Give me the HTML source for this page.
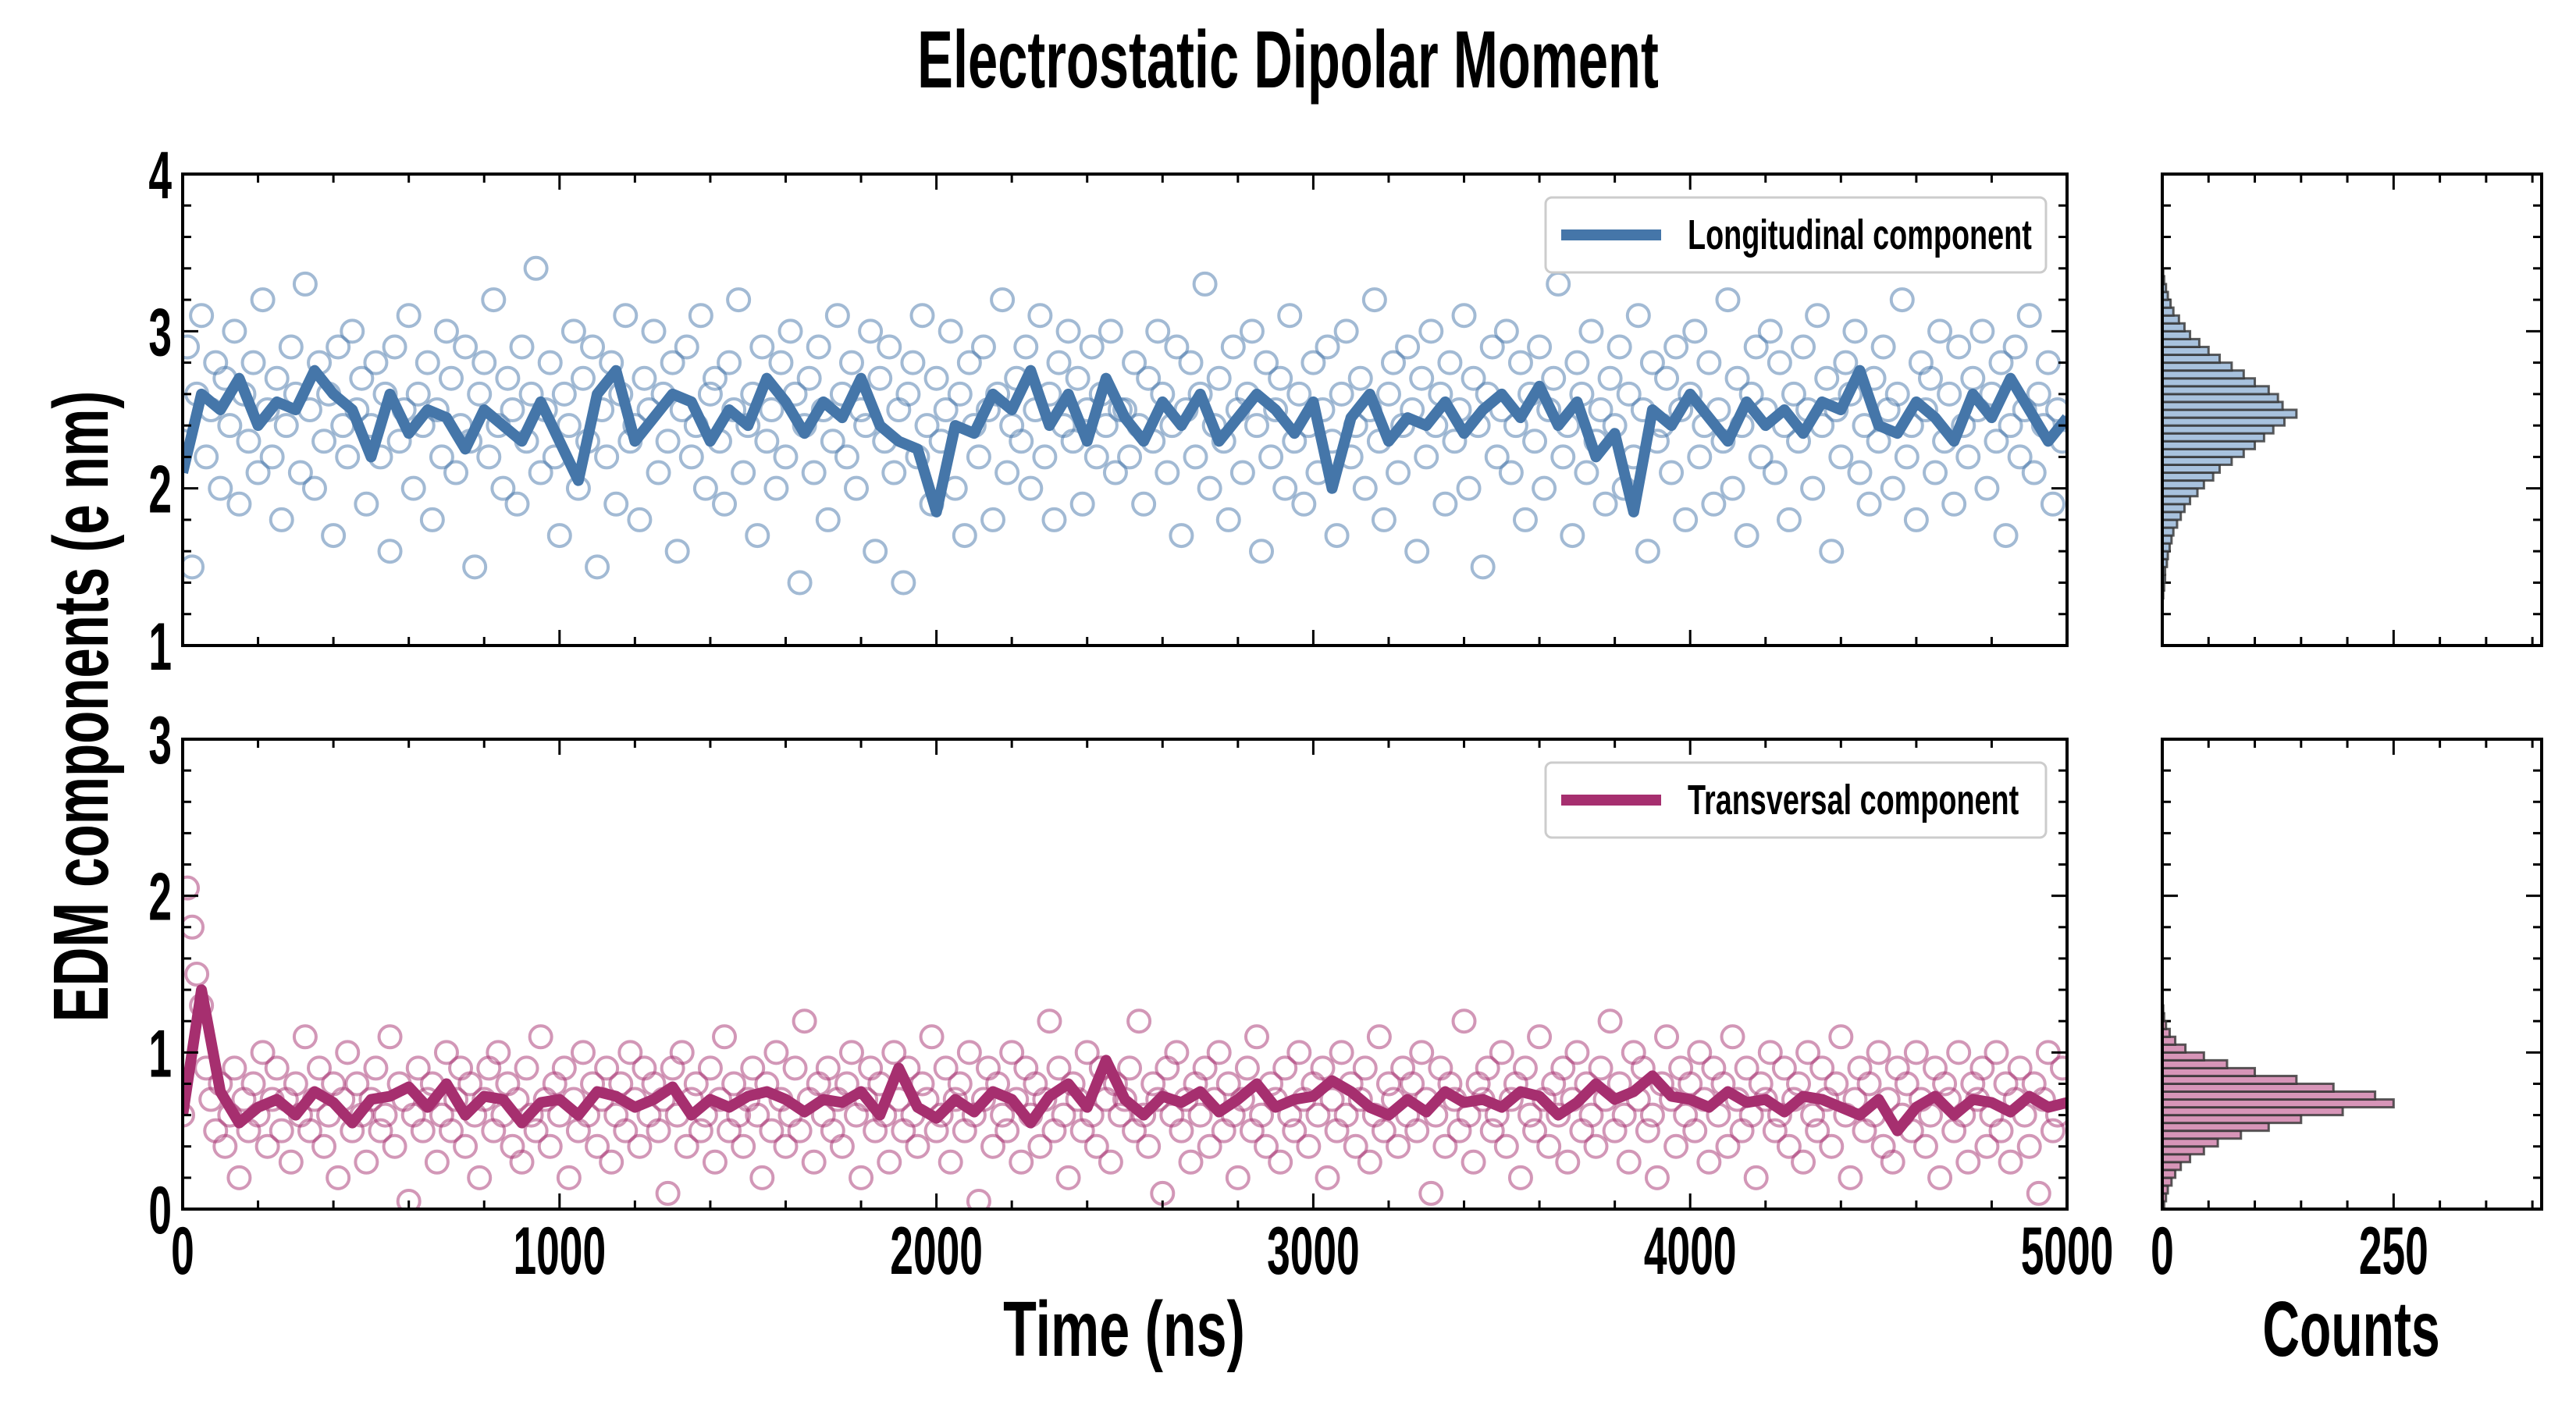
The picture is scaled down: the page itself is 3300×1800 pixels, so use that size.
<!DOCTYPE html>
<html><head><meta charset="utf-8">
<style>
html,body{margin:0;padding:0;background:#fff;}
svg{display:block;}
text{font-family:"Liberation Sans Narrow","Liberation Sans",sans-serif;font-weight:bold;fill:#000;}
</style></head>
<body>
<svg id="chart" width="3300" height="1800" viewBox="0 0 3300 1800" xmlns="http://www.w3.org/2000/svg">
<text x="0" y="0" font-size="104" text-anchor="middle" transform="translate(1650,112) scale(0.66,1)">Electrostatic Dipolar Moment</text>
<text x="0" y="0" font-size="100" text-anchor="middle" transform="translate(138,905) rotate(-90) scale(0.69,1)">EDM components (e nm)</text>
<text x="0" y="0" font-size="100" text-anchor="middle" transform="translate(1440,1737) scale(0.7,1)">Time (ns)</text>
<text x="0" y="0" font-size="100" text-anchor="middle" transform="translate(3012,1737) scale(0.66,1)">Counts</text>
<g id="layer"></g>
</svg>
<script>
// ---- data ----
const lineTimes = Array.from({length:101},(_,i)=>i*50);
const topLine = [2.1,2.6,2.5,2.7,2.4,2.55,2.5,2.75,2.6,2.5,2.2,2.6,2.35,2.5,2.45,2.25,2.5,2.4,2.3,2.55,2.3,2.05,2.6,2.75,2.3,2.45,2.6,2.55,2.3,2.5,2.4,2.7,2.55,2.35,2.55,2.45,2.7,2.4,2.3,2.25,1.85,2.4,2.35,2.6,2.5,2.75,2.4,2.6,2.3,2.7,2.45,2.3,2.55,2.4,2.6,2.3,2.45,2.6,2.5,2.35,2.55,2.0,2.45,2.6,2.3,2.45,2.4,2.55,2.35,2.5,2.6,2.45,2.65,2.4,2.55,2.2,2.35,1.85,2.5,2.4,2.6,2.45,2.3,2.55,2.4,2.5,2.35,2.55,2.5,2.75,2.4,2.35,2.55,2.45,2.3,2.6,2.45,2.7,2.5,2.3,2.45];
const bottomLine = [0.6,1.4,0.75,0.55,0.65,0.7,0.6,0.75,0.68,0.55,0.7,0.72,0.78,0.65,0.8,0.6,0.72,0.7,0.55,0.68,0.7,0.6,0.75,0.72,0.65,0.7,0.78,0.6,0.7,0.65,0.72,0.75,0.7,0.62,0.7,0.68,0.75,0.6,0.9,0.65,0.58,0.7,0.62,0.75,0.7,0.55,0.72,0.8,0.65,0.95,0.7,0.6,0.72,0.68,0.75,0.62,0.7,0.8,0.65,0.7,0.72,0.82,0.75,0.65,0.6,0.7,0.62,0.75,0.68,0.7,0.65,0.75,0.72,0.6,0.68,0.8,0.7,0.75,0.85,0.72,0.7,0.65,0.75,0.68,0.7,0.62,0.72,0.7,0.65,0.6,0.7,0.5,0.65,0.72,0.6,0.7,0.68,0.62,0.72,0.65,0.68];
const topScatter = [2.3,2.9,1.5,2.6,3.1,2.2,2.5,2.8,2.0,2.7,2.4,3.0,1.9,2.6,2.3,2.8,2.1,3.2,2.5,2.2,
2.7,1.8,2.4,2.9,2.6,2.1,3.3,2.5,2.0,2.8,2.3,2.6,1.7,2.9,2.4,2.2,3.0,2.5,2.7,1.9,
2.4,2.8,2.2,2.6,1.6,2.9,2.3,2.5,3.1,2.0,2.6,2.4,2.8,1.8,2.5,2.2,3.0,2.7,2.1,2.4,
2.9,2.3,1.5,2.6,2.8,2.2,3.2,2.4,2.0,2.7,2.5,1.9,2.9,2.3,2.6,3.4,2.1,2.5,2.8,2.2,
1.7,2.6,2.4,3.0,2.0,2.7,2.3,2.9,1.5,2.5,2.2,2.8,1.9,2.6,3.1,2.3,2.4,1.8,2.7,2.5,
3.0,2.1,2.6,2.3,2.8,1.6,2.5,2.9,2.2,2.4,3.1,2.0,2.6,2.7,2.3,1.9,2.8,2.5,3.2,2.1,
2.4,2.6,1.7,2.9,2.3,2.5,2.0,2.8,2.2,3.0,2.6,1.4,2.4,2.7,2.1,2.9,2.5,1.8,2.3,3.1,
2.6,2.2,2.8,2.0,2.5,2.4,3.0,1.6,2.7,2.3,2.9,2.1,2.5,1.4,2.6,2.8,2.2,3.1,2.4,1.9,
2.7,2.3,2.5,3.0,2.0,2.6,1.7,2.8,2.4,2.2,2.9,2.5,1.8,2.6,3.2,2.1,2.4,2.7,2.3,2.9,
2.0,2.5,3.1,2.2,2.6,1.8,2.8,2.4,3.0,2.3,2.7,1.9,2.5,2.9,2.2,2.6,2.4,3.0,2.1,2.5,
2.5,2.2,2.8,2.4,1.9,2.7,2.3,3.0,2.6,2.1,2.4,2.9,1.7,2.5,2.8,2.2,2.6,3.3,2.0,2.4,
2.7,2.3,1.8,2.9,2.5,2.1,2.6,3.0,2.4,1.6,2.8,2.2,2.5,2.7,2.0,3.1,2.3,2.6,1.9,2.4,
2.8,2.1,2.5,2.9,2.3,1.7,2.6,3.0,2.2,2.4,2.7,2.0,2.5,3.2,2.3,1.8,2.6,2.8,2.1,2.4,
2.9,2.5,1.6,2.7,2.2,3.0,2.4,2.6,1.9,2.8,2.3,2.5,3.1,2.0,2.7,2.4,1.5,2.6,2.9,2.2,
2.5,3.0,2.1,2.4,2.8,1.8,2.6,2.3,2.9,2.0,2.5,2.7,3.3,2.2,2.4,1.7,2.8,2.6,2.1,3.0,
2.3,2.5,1.9,2.7,2.4,2.9,2.0,2.6,2.2,3.1,2.5,1.6,2.8,2.3,2.4,2.7,2.1,2.9,2.5,1.8,
2.6,3.0,2.2,2.4,2.8,1.9,2.5,2.3,3.2,2.0,2.7,2.4,1.7,2.6,2.9,2.2,2.5,3.0,2.1,2.8,
2.4,1.8,2.6,2.3,2.9,2.5,2.0,3.1,2.4,2.7,1.6,2.5,2.2,2.8,2.6,3.0,2.1,2.4,1.9,2.7,
2.3,2.9,2.5,2.0,2.6,3.2,2.2,2.4,1.8,2.8,2.5,2.7,2.1,3.0,2.3,2.6,1.9,2.9,2.4,2.2,
2.7,2.5,3.0,2.0,2.6,2.3,2.8,1.7,2.4,2.9,2.2,2.5,3.1,2.1,2.6,2.4,2.8,1.9,2.5,2.3];
const bottomScatter = [0.6,2.05,1.8,1.5,1.3,0.9,0.7,0.5,0.8,0.4,0.6,0.9,0.2,0.7,0.5,0.8,0.6,1.0,0.4,0.7,
0.9,0.5,0.7,0.3,0.8,0.6,1.1,0.5,0.7,0.9,0.4,0.6,0.8,0.2,0.7,1.0,0.5,0.8,0.6,0.3,
0.7,0.9,0.5,0.6,1.1,0.4,0.8,0.7,0.05,0.6,0.9,0.5,0.7,0.8,0.3,0.6,1.0,0.5,0.7,0.9,
0.4,0.8,0.6,0.2,0.7,0.9,0.5,1.0,0.6,0.8,0.4,0.7,0.3,0.9,0.6,0.5,1.1,0.7,0.4,0.8,
0.6,0.9,0.2,0.7,0.5,1.0,0.6,0.8,0.4,0.7,0.9,0.3,0.6,0.8,0.5,1.0,0.7,0.4,0.9,0.6,
0.8,0.5,0.7,0.1,0.9,0.6,1.0,0.4,0.7,0.8,0.5,0.6,0.9,0.3,0.7,1.1,0.5,0.8,0.6,0.4,
0.7,0.9,0.6,0.2,0.8,0.5,1.0,0.7,0.4,0.6,0.9,0.5,1.2,0.7,0.3,0.8,0.6,0.9,0.5,0.7,
0.4,0.8,1.0,0.6,0.2,0.7,0.9,0.5,0.8,0.6,0.3,1.0,0.7,0.5,0.9,0.6,0.4,0.8,0.7,1.1,
0.5,0.6,0.9,0.3,0.7,0.8,0.5,1.0,0.6,0.05,0.7,0.9,0.4,0.8,0.6,0.5,1.0,0.7,0.3,0.9,
0.6,0.8,0.4,0.7,1.2,0.5,0.9,0.6,0.2,0.8,0.7,0.5,1.0,0.6,0.4,0.9,0.7,0.3,0.8,0.6,
0.7,0.9,0.5,1.2,0.6,0.4,0.8,0.7,0.1,0.9,0.6,1.0,0.5,0.7,0.3,0.8,0.6,0.9,0.4,0.7,
1.0,0.5,0.8,0.6,0.2,0.7,0.9,0.5,1.1,0.6,0.4,0.8,0.7,0.3,0.9,0.6,0.5,1.0,0.7,0.4,
0.8,0.6,0.9,0.2,0.7,0.5,1.0,0.6,0.8,0.4,0.7,0.9,0.3,0.6,1.1,0.5,0.8,0.7,0.4,0.9,
0.6,0.8,0.5,1.0,0.7,0.1,0.6,0.9,0.4,0.8,0.7,0.5,1.2,0.6,0.3,0.8,0.7,0.9,0.5,0.6,
1.0,0.4,0.7,0.8,0.2,0.9,0.6,0.5,1.1,0.7,0.4,0.8,0.6,0.9,0.3,0.7,1.0,0.5,0.8,0.6,
0.4,0.9,0.7,1.2,0.5,0.8,0.6,0.3,1.0,0.7,0.9,0.5,0.6,0.2,0.8,1.1,0.7,0.4,0.9,0.6,
0.8,0.5,1.0,0.7,0.3,0.9,0.6,0.8,0.4,1.1,0.7,0.5,0.9,0.6,0.2,0.8,0.7,1.0,0.5,0.6,
0.9,0.4,0.7,0.8,0.3,1.0,0.6,0.5,0.9,0.7,0.4,0.8,1.1,0.6,0.2,0.7,0.9,0.5,0.8,0.6,
1.0,0.4,0.7,0.3,0.9,0.6,0.8,0.5,1.0,0.7,0.4,0.6,0.9,0.2,0.8,0.7,0.5,1.0,0.6,0.3,
0.8,0.7,0.9,0.4,0.6,1.0,0.5,0.8,0.3,0.7,0.9,0.6,0.4,0.8,0.1,0.7,1.0,0.5,0.6,0.9];
const topHistStart = 1.30;
const bottomHistStart = 0.0;
const histBinWidth = 0.05;
const topHistCounts = [1,2,3,3,5,6,8,10,12,16,20,24,30,38,45,55,62,75,88,100,110,120,132,145,130,125,115,100,88,75,62,50,40,30,24,18,12,9,6,4,2,1];
const bottomHistCounts = [2,4,6,10,14,20,30,45,60,85,115,150,195,250,230,185,145,100,70,45,25,14,8,4,2,1];
const xTickLabels = ["0","1000","2000","3000","4000","5000"];
const topYTickLabels = ["1","2","3","4"];
const bottomYTickLabels = ["0","1","2","3"];
const histTickLabels = ["0","250"];

// ---- layout ----
const L=234,R=2648,HL=2770,HR=3256;
const T1=223,B1=827,T2=947,B2=1549;
const xs=t=>L+t/5000*(R-L);
const y1=v=>B1-(v-1)/3*(B1-T1);
const y2=v=>B2-v/3*(B2-T2);
const hx=c=>HL+c/410*(HR-HL);
const NS="http://www.w3.org/2000/svg";
const layer=document.getElementById('layer');
function mk(tag,attrs,parent){const e=document.createElementNS(NS,tag);for(const k in attrs)e.setAttribute(k,attrs[k]);(parent||layer).appendChild(e);return e;}
function txt(parent,x,y,size,anchor,str,sx){
  const t=mk('text',{x:0,y:0,'font-size':size,'text-anchor':anchor,transform:'translate('+x+','+y+') scale('+sx+',1)'},parent);
  t.textContent=str;return t;
}

function panel(name,T,B,yfun,ymin,ymax,yLabels,scatter,line,color,light,legendText,legY,hist,histStart){
  const g=mk('g',{});
  
  
  const cid='clip-'+name;
  const cp=mk('clipPath',{id:cid},g);mk('rect',{x:L,y:T,width:R-L,height:B-T},cp);
  const sg=mk('g',{'clip-path':'url(#'+cid+')'},g);
  scatter.forEach((v,i)=>{
    const c=mk('circle',{cx:xs(i*12.5),cy:yfun(v),r:14,fill:'none',stroke:color,'stroke-opacity':0.5,'stroke-width':4},sg);
    
    
  });
  const pts=line.map((v,i)=>xs(lineTimes[i]).toFixed(1)+','+yfun(v).toFixed(1)).join(' ');
  const pl=mk('polyline',{points:pts,fill:'none',stroke:color,'stroke-width':14,'stroke-linejoin':'round'},sg);
  
  
  mk('rect',{x:L,y:T,width:R-L,height:B-T,fill:'none',stroke:'#000','stroke-width':4},g);
  for(let t=0;t<=5000;t+=200){
    const maj=t%1000===0, len=maj?20:11;
    mk('line',{x1:xs(t),x2:xs(t),y1:B,y2:B-len,stroke:'#000','stroke-width':3},g);
    mk('line',{x1:xs(t),x2:xs(t),y1:T,y2:T+len,stroke:'#000','stroke-width':3},g);
  }
  for(let k=0;k<=15;k++){
    const v=ymin+k*0.2, maj=k%5===0, len=maj?20:11;
    mk('line',{x1:L,x2:L+len,y1:yfun(v),y2:yfun(v),stroke:'#000','stroke-width':3},g);
    mk('line',{x1:R,x2:R-len,y1:yfun(v),y2:yfun(v),stroke:'#000','stroke-width':3},g);
    mk('line',{x1:HL,x2:HL+len,y1:yfun(v),y2:yfun(v),stroke:'#000','stroke-width':3},g);
    mk('line',{x1:HR,x2:HR-len,y1:yfun(v),y2:yfun(v),stroke:'#000','stroke-width':3},g);
  }
  yLabels.forEach((s,i)=>{
    const tx=txt(g,L-14,yfun(ymin+i)+31,86,'end',s,0.62);
    
    
  });
  const lg=mk('g',{},g);
  
  
  mk('rect',{x:1980,y:legY,width:641,height:96,rx:8,fill:'#fff','fill-opacity':0.85,stroke:'#ccc','stroke-width':3},lg);
  mk('line',{x1:2000,x2:2128,y1:legY+48,y2:legY+48,stroke:color,'stroke-width':14},lg);
  txt(lg,2162,legY+66,54,'start',legendText,0.7);
  const hg=mk('g',{},g);
  
  
  hist.forEach((c,i)=>{
    const v0=histStart+i*histBinWidth, v1=v0+histBinWidth;
    const b=mk('rect',{x:HL,y:yfun(v1),width:hx(c)-HL,height:yfun(v0)-yfun(v1),fill:light,stroke:'#333','stroke-opacity':0.8,'stroke-width':3},hg);
    
    
  });
  mk('rect',{x:HL,y:T,width:HR-HL,height:B-T,fill:'none',stroke:'#000','stroke-width':4},g);
  for(let c=0;c<=400;c+=50){
    const len=c%250===0?20:11;
    mk('line',{x1:hx(c),x2:hx(c),y1:B,y2:B-len,stroke:'#000','stroke-width':3},g);
    mk('line',{x1:hx(c),x2:hx(c),y1:T,y2:T+len,stroke:'#000','stroke-width':3},g);
  }
}
panel('longitudinal',T1,B1,y1,1,4,topYTickLabels,topScatter,topLine,'#4576a9','#a8c2de','Longitudinal component',253,topHistCounts,topHistStart);
panel('transversal',T2,B2,y2,0,3,bottomYTickLabels,bottomScatter,bottomLine,'#a62f6f','#d795b8','Transversal component',977,bottomHistCounts,bottomHistStart);

xTickLabels.forEach((s,i)=>{
  const t=txt(layer,xs(i*1000),1632,86,'middle',s,0.62);
  
  
});
histTickLabels.forEach((s,i)=>{
  const t=txt(layer,hx(i*250),1632,86,'middle',s,0.62);
  
  
});
</script>
</body></html>
